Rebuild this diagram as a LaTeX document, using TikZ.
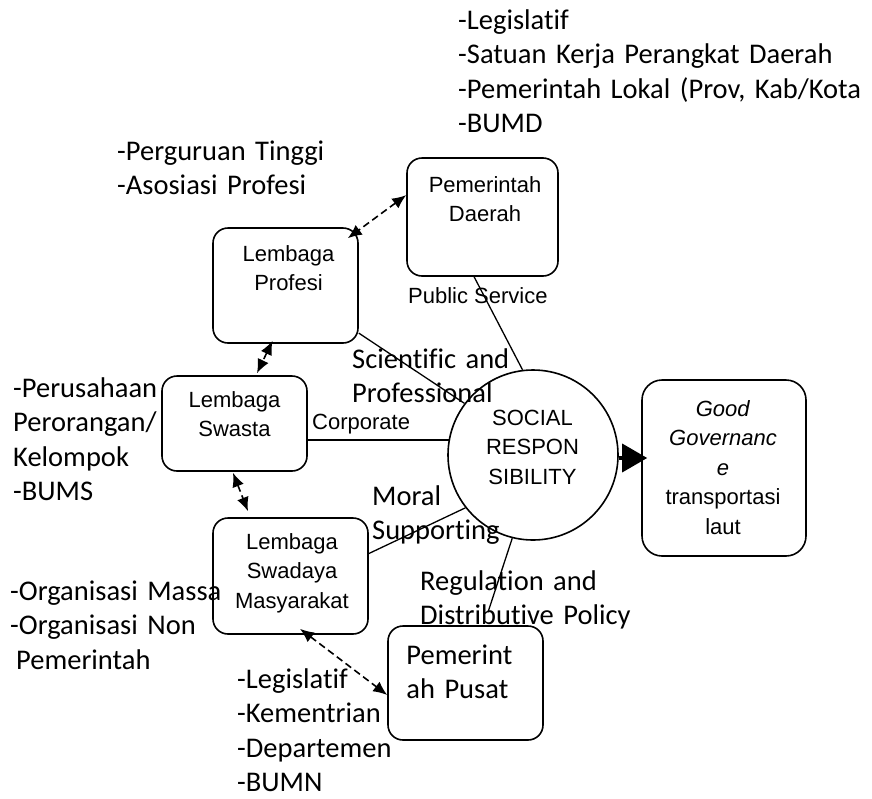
\documentclass[tikz,border=0pt]{standalone}
\usepackage{fontspec}
\setmainfont{Carlito}[Ligatures=NoCommon]
\newfontfamily\arialfont{Liberation Sans}
\usetikzlibrary{shapes,arrows.meta,positioning,calc}
\tikzstyle{box} = [draw,rounded corners=15pt,line width=1.6pt,inner sep=0pt]
\tikzstyle{boxtext} = [font=\arialfont\fontsize{22}{29.5}\selectfont,align=center,inner sep=0pt,anchor=base,text width=150pt]
\tikzstyle{note} = [font=\fontsize{28.5}{34.5}\selectfont,align=left,inner sep=0pt,anchor=base west,text width=420pt]
\tikzstyle{tag} = [font=\arialfont\fontsize{22}{29.5}\selectfont,inner sep=0pt,anchor=base west]
\tikzstyle{link} = [line width=1.3pt]
\tikzstyle{dasharrow} = [dash pattern=on 7pt off 4pt,line width=1.6pt,{Latex[length=14pt,width=12pt]}-{Latex[length=14pt,width=12pt]}]
\tikzset{>=latex}

\begin{document}
\begin{tikzpicture}[x=1pt,y=-1pt]
    \useasboundingbox (0,0) rectangle (872,798);

    % centre and the boxes round it
    \node [draw,circle,line width=1.6pt,minimum size=170pt,inner sep=0pt] (src) at (533,455) {};
    \node [box,minimum width=151pt,minimum height=118pt] (pd) at (482.5,217) {};
    \node [box,minimum width=145pt,minimum height=115pt] (lp) at (285.5,285.5) {};
    \node [box,minimum width=145pt,minimum height=95pt] (ls) at (234.5,423.5) {};
    \node [box,minimum width=155pt,minimum height=116pt] (lsm) at (290.5,576) {};
    \node [box,minimum width=155pt,minimum height=114pt] (pp) at (465.5,683) {};
    \node [box,rounded corners=20pt,minimum width=164pt,minimum height=176pt] (gg) at (724,468) {};

    \node [boxtext] (srctxt) at ($(src.center)+(-0.5,-30)$) {SOCIAL\\RESPON\\SIBILITY};
    \node [boxtext] (pdtxt) at ($(pd.north)+(2.5,35)$) {Pemerintah\\Daerah};
    \node [boxtext] (lptxt) at ($(lp.north)+(3,34)$) {Lembaga\\Profesi};
    \node [boxtext] (lstxt) at ($(ls.north)+(0,32)$) {Lembaga\\Swasta};
    \node [boxtext] (lsmtxt) at ($(lsm.north)+(1.5,32)$) {Lembaga\\Swadaya\\Masyarakat};
    \node [boxtext,text width=160pt] (ggtxt) at ($(gg.north)+(-1,37)$) {\textit{Good}\\\textit{Governanc}\\\textit{e}\\transportasi\\laut};
    \node [note,text width=130pt] (pptxt) at ($(pp.north west)+(19,39)$) {Pemerint\\ah Pusat};

    % lists of members
    \node [note] (pdlist) at (458,29) {-Legislatif\\-Satuan Kerja Perangkat Daerah\\-Pemerintah Lokal (Prov, Kab/Kota\\-BUMD};
    \node [note] (lplist) at (117,160) {-Perguruan Tinggi\\-Asosiasi Profesi};
    \node [note] (lslist) at (13,397) {-Perusahaan\\Perorangan/\\Kelompok\\-BUMS};
    \node [note] (lsmlist) at (10,600) {-Organisasi Massa\\-Organisasi Non\\\hspace*{6pt}Pemerintah};
    \node [note] (pplist) at (237,688) {-Legislatif\\-Kementrian\\-Departemen\\-BUMN};

    % links to the centre
    \draw [link] (lp.-33.2) -- (src.143);
    \draw [link] (pd.262.8) -- (src.97);
    \draw [link] (lsm.16.5) -- (src.218);
    \coordinate (ppend) at ($(pp.north)+(22.5,-13)$);
    \draw [link] (ppend) -- (src.256);
    \draw [line width=2.4pt] (ls.east |- src.170) -- (src.170);
    \draw [line width=3.5pt,-{Triangle[length=25pt,width=28pt]},shorten >=-6pt] (src.-2) -- (gg.west |- src.-2);

    \node [tag] (lbps) at (408,303) {Public Service};
    \node [tag] (lbcorp) at (312,429) {Corporate};
    \node [note] (lbsci) at (352,368) {Scientific and\\Professional};
    \node [note] (lbmoral) at (372,505) {Moral\\Supporting};
    \node [note] (lbreg) at (420,590) {Regulation and\\Distributive Policy};

    % dashed ties between the boxes
    \draw [dasharrow] (pd.164) -- ($(lp.north east)+(-11,11)$);
    \draw [dasharrow] ($(lp.south)+(-13,-3)$) -- ($(ls.north)+(22.5,-2)$);
    \draw [dasharrow] ($(ls.south)+(-1.5,1)$) -- ($(lsm.north)+(-42.5,-6)$);
    \draw [dasharrow] ($(lsm.south)+(9.5,-6)$) -- ($(pp.west)+(0,12)$);
\end{tikzpicture}
\end{document}
